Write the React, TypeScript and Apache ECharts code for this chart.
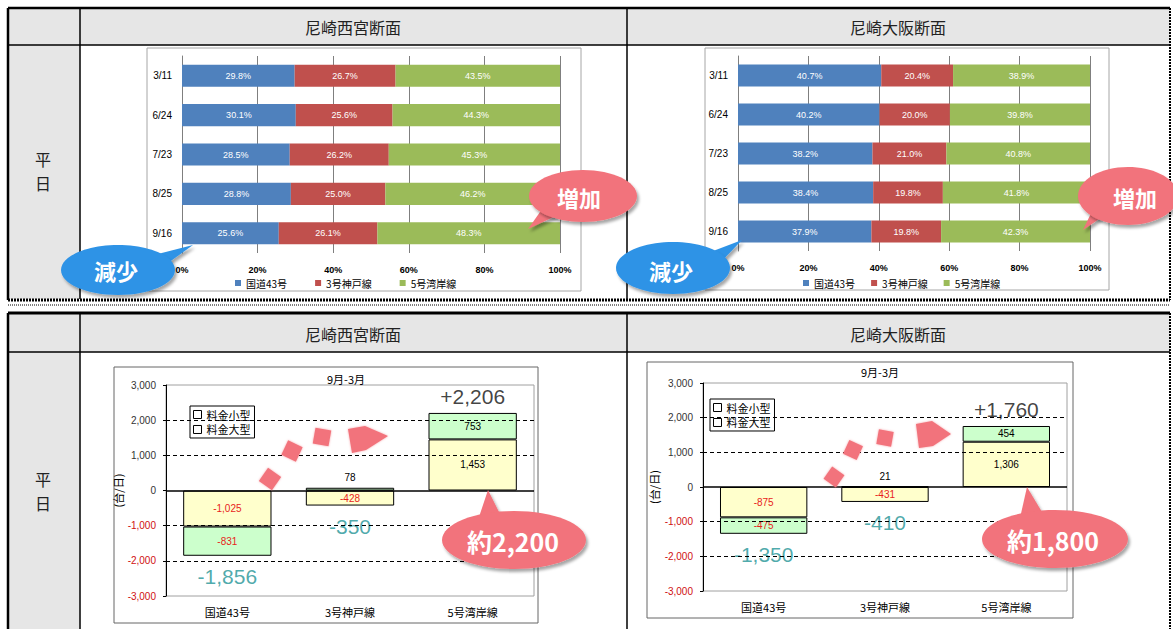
import React, { useEffect, useRef } from "react";
import * as echarts from "echarts";

// ---- data ----
const shareDates = ["3/11", "6/24", "7/23", "8/25", "9/16"];
const routeNames = ["国道43号", "3号神戸線", "5号湾岸線"];

const nishiRoute43 = [29.8, 30.1, 28.5, 28.8, 25.6];
const nishiKobe3 = [26.7, 25.6, 26.2, 25.0, 26.1];
const nishiWangan5 = [43.5, 44.3, 45.3, 46.2, 48.3];

const osakaRoute43 = [40.7, 40.2, 38.2, 38.4, 37.9];
const osakaKobe3 = [20.4, 20.0, 21.0, 19.8, 19.8];
const osakaWangan5 = [38.9, 39.8, 40.8, 41.8, 42.3];

const pctMin = 0;
const pctMax = 100;
const pctStep = 20;

const fareNames = ["料金小型", "料金大型"];
const nishiSmall = [-1025, -428, 1453];
const nishiLarge = [-831, 78, 753];
const nishiTotal = [-1856, -350, 2206];
const osakaSmall = [-875, -431, 1306];
const osakaLarge = [-475, 21, 454];
const osakaTotal = [-1350, -410, 1760];

const diffMin = -3000;
const diffMax = 3000;
const diffStep = 1000;
const dashedLevels = [2000, 1000, -1000, -2000];

// ---- styles ----
const shareColors = ["#4f81bd", "#c0504d", "#9bbb59"];
const fareColors = ["#ffffcc", "#ccffcc"];
const JP = '"Noto Sans CJK JP", "Liberation Sans", sans-serif';
const NUM = '"Liberation Sans", Arial, sans-serif';
const NARROW = '"Liberation Sans Narrow", "Liberation Sans", Arial, sans-serif';
const teal = "#1f9496";
const pink = "#f2737b";
const blue = "#2f93e6";

const fmt = (v: number) => v.toLocaleString("en-US");

function shareSeries(idx: number, stack: string, arrays: number[][]) {
  return arrays.map((arr, k) => ({
    type: "bar",
    name: routeNames[k],
    stack,
    xAxisIndex: idx,
    yAxisIndex: idx,
    barWidth: "56%",
    data: arr,
    itemStyle: { color: shareColors[k] },
    label: {
      show: true,
      color: "#fff",
      fontSize: 9,
      fontFamily: NUM,
      formatter: (p: any) => Number(p.value).toFixed(1) + "%",
    },
    emphasis: { disabled: true },
  }));
}

function diffSeries(idx: number, stack: string, small: number[], large: number[], total: number[]) {
  const item = (v: number) => ({
    value: v,
    label: {
      position: Math.abs(v) < 150 ? "top" : "inside",
      color: v < 0 ? "#e8231b" : "#000",
    },
  });
  const common = {
    type: "bar",
    stack,
    xAxisIndex: idx,
    yAxisIndex: idx,
    barWidth: "72%",
    z: 3,
    emphasis: { disabled: true },
    label: { show: true, fontSize: 10, fontFamily: NUM, formatter: (p: any) => fmt(Number(p.value)) },
  };
  return [
    {
      ...common,
      name: fareNames[0],
      data: small.map(item),
      itemStyle: { color: fareColors[0], borderColor: "#000", borderWidth: 1 },
    },
    {
      ...common,
      name: fareNames[1],
      data: large.map(item),
      itemStyle: { color: fareColors[1], borderColor: "#000", borderWidth: 1 },
      markLine: {
        silent: true,
        symbol: ["none", "none"],
        label: { show: false },
        lineStyle: { color: "#000", width: 1.5, type: "solid" },
        data: [{ yAxis: 0 }],
      },
    },
    {
      type: "scatter",
      name: "total" + idx,
      xAxisIndex: idx,
      yAxisIndex: idx,
      z: 1,
      symbolSize: 1,
      itemStyle: { color: "transparent" },
      emphasis: { disabled: true },
      data: total.map((t, i) => ({
        value: [
          i,
          t < 0
            ? Math.min(small[i], 0) + Math.min(large[i], 0)
            : Math.max(small[i], 0) + Math.max(large[i], 0),
          t,
        ],
        label: {
          position: t < 0 ? "bottom" : "top",
          distance: t < 0 ? 10 : 5,
          color: t < 0 ? teal : "#111",
        },
      })),
      label: {
        show: true,
        fontSize: 21,
        fontFamily: NARROW,
        formatter: (p: any) => {
          const t = p.value[2];
          return (t > 0 ? "+" : "") + fmt(t);
        },
      },
      markLine: {
        silent: true,
        symbol: ["none", "none"],
        label: { show: false },
        lineStyle: { color: "#000", width: 1, type: [4, 3] },
        data: dashedLevels.map((v) => ({ yAxis: v })),
      },
    },
  ];
}

function rotSquare(cx: number, cy: number, s: number, deg: number) {
  const a = (deg * Math.PI) / 180;
  const h = s / 2;
  return [
    [-h, -h],
    [h, -h],
    [h, h],
    [-h, h],
  ].map(([x, y]) => [cx + x * Math.cos(a) - y * Math.sin(a), cy + x * Math.sin(a) + y * Math.cos(a)]);
}

function bubble(
  cx: number,
  cy: number,
  rx: number,
  ry: number,
  tail: number[][],
  color: string,
  text: string,
  tx: number,
  ty: number,
  fontSize: number
) {
  const shadow = { shadowBlur: 3, shadowColor: "rgba(0,0,0,0.35)", shadowOffsetX: 2, shadowOffsetY: 3 };
  return [
    { type: "polygon", z: 100, shape: { points: tail }, style: { fill: color, ...shadow } },
    { type: "ellipse", z: 100, shape: { cx, cy, rx, ry }, style: { fill: color, ...shadow } },
    {
      type: "text",
      z: 101,
      style: {
        text,
        x: tx,
        y: ty,
        align: "center",
        verticalAlign: "middle",
        fill: "#fff",
        fontSize,
        fontWeight: "bold",
        fontFamily: JP,
      },
    },
  ];
}

function arrowDecor(sq: number[][], head: number[][]) {
  const st = { fill: pink, shadowBlur: 2, shadowColor: "rgba(240,110,120,0.6)" };
  return [
    ...sq.map(([cx, cy, s, d]) => ({ type: "polygon", z: 90, shape: { points: rotSquare(cx, cy, s, d) }, style: st })),
    { type: "polygon", z: 90, shape: { points: head }, style: st },
  ];
}

function txt(x: number, y: number, text: string, fontSize: number, extra: any = {}) {
  return {
    type: "text",
    z: 5,
    style: { text, x, y, align: "center", verticalAlign: "middle", fill: "#222", fontSize, fontFamily: JP, ...extra },
  };
}

function line(x1: number, y1: number, x2: number, y2: number, width: number, dash?: any) {
  return {
    type: "line",
    z: -5,
    shape: { x1, y1, x2, y2 },
    style: { stroke: "#000", lineWidth: width, lineDash: dash },
  };
}

function rect(x: number, y: number, w: number, h: number, fill: string, stroke?: string, z = -10) {
  return {
    type: "rect",
    z,
    shape: { x, y, width: w, height: h },
    style: { fill, stroke: stroke || null, lineWidth: stroke ? 1 : 0 },
  };
}

const gray = "#e6e6e6";

const graphics: any[] = [
  // top table
  rect(8, 8, 1162, 291, "#fff"),
  rect(8, 8, 1162, 37, gray),
  rect(8, 45, 72, 254, gray),
  line(8, 45, 1170, 45, 1.5),
  line(80, 8, 80, 299, 1.5),
  line(627, 8, 627, 299, 1.5),
  line(8, 8, 1170, 8, 2.5),
  line(8, 8, 8, 300, 2.5),
  line(8, 300, 1170, 300, 3, [2, 1]),
  line(1170, 8, 1170, 300, 2, [2, 1]),
  line(8, 305, 1170, 305, 1, [1, 1]),
  // bottom table
  rect(8, 313, 1162, 316, "#fff"),
  rect(8, 313, 1162, 39, gray),
  rect(8, 352, 72, 277, gray),
  line(8, 352, 1170, 352, 1.5),
  line(80, 313, 80, 629, 1.5),
  line(627, 313, 627, 629, 1.5),
  line(8, 313, 1170, 313, 3),
  line(8, 313, 8, 629, 2.5),
  line(1170, 313, 1170, 629, 2, [2, 1]),
  // chart frames
  rect(147, 48, 434, 243, "#fff", "#a6a6a6", -4),
  rect(705, 48, 404, 242, "#fff", "#a6a6a6", -4),
  rect(114, 367, 424, 256, "#fff", "#666", -4),
  rect(647, 362, 426, 256, "#fff", "#666", -4),
  // headers
  txt(353, 27, "尼崎西宮断面", 16),
  txt(898, 27, "尼崎大阪断面", 16),
  txt(353, 334, "尼崎西宮断面", 16),
  txt(898, 334, "尼崎大阪断面", 16),
  txt(43, 159, "平", 16),
  txt(43, 183, "日", 16),
  txt(43, 479, "平", 16),
  txt(43, 503, "日", 16),
  // chart titles
  txt(346, 379, "9月-3月", 11, { fill: "#000" }),
  txt(880, 372, "9月-3月", 11, { fill: "#000" }),
  // arrows
  ...arrowDecor(
    [
      [270, 479, 16, 35],
      [292, 451, 16, 25],
      [322, 437, 16, 10],
    ],
    [
      [348, 429],
      [365, 426],
      [388, 436],
      [366, 450],
      [352, 453],
    ]
  ),
  ...arrowDecor(
    [
      [834, 477, 15, 35],
      [853, 450, 15, 25],
      [885, 438, 15, 10],
    ],
    [
      [916, 424],
      [932, 421],
      [951, 434],
      [933, 446],
      [919, 448],
    ]
  ),
  // callouts
  ...bubble(118, 270, 57, 25, [[150, 256], [168, 263], [193, 245]], blue, "減少", 116, 270, 22),
  ...bubble(583, 196, 54, 26, [[545, 205], [560, 214], [528, 229]], pink, "増加", 579, 197, 22),
  ...bubble(673, 268, 57, 26, [[700, 256], [720, 263], [742, 240]], blue, "減少", 671, 270, 22),
  ...bubble(1128, 196, 50, 29, [[1095, 205], [1105, 215], [1083, 230]], pink, "増加", 1135, 197, 22),
  ...bubble(514, 540, 72, 29, [[478, 520], [500, 514], [488, 490]], pink, "約2,200", 513, 541, 25),
  ...bubble(1055, 539, 73, 29, [[1020, 518], [1042, 512], [1027, 487]], pink, "約1,800", 1053, 540, 25),
];

const shareXAxis = (idx: number) => ({
  gridIndex: idx,
  type: "value",
  min: pctMin,
  max: pctMax,
  interval: pctStep,
  axisLine: { show: false },
  axisTick: { show: false },
  axisLabel: { formatter: "{value}%", fontSize: 9, color: "#000", fontWeight: "bold", margin: 12, fontFamily: NUM },
  splitLine: { lineStyle: { color: "#7f7f7f", width: 1 } },
});

const shareYAxis = (idx: number) => ({
  gridIndex: idx,
  type: "category",
  data: shareDates,
  inverse: true,
  axisLine: { lineStyle: { color: "#7f7f7f" } },
  axisTick: { show: false },
  axisLabel: { fontSize: 10, color: "#000", margin: 10, fontFamily: NUM },
});

const diffXAxis = (idx: number) => ({
  gridIndex: idx,
  type: "category",
  data: routeNames,
  axisLine: { show: false },
  axisTick: { show: false },
  axisLabel: { fontSize: 11, color: "#000", margin: 10, fontFamily: JP },
});

const diffYAxis = (idx: number, nameGap: number) => ({
  gridIndex: idx,
  type: "value",
  min: diffMin,
  max: diffMax,
  interval: diffStep,
  axisLine: { show: true, lineStyle: { color: "#000" } },
  axisTick: { show: true, length: 3, lineStyle: { color: "#000" } },
  splitLine: { show: false },
  axisLabel: {
    fontSize: 10,
    margin: 10,
    fontFamily: NUM,
    formatter: (v: number) => fmt(Number(v)),
    color: (v: any) => (Number(v) < 0 ? "#d01010" : "#333"),
  },
  name: "(台/日)",
  nameLocation: "middle",
  nameRotate: 90,
  nameGap,
  nameTextStyle: { fontSize: 11, color: "#000", fontFamily: JP },
});

const fareLegend = (left: number, top: number) => ({
  left,
  top,
  orient: "vertical",
  selectedMode: false,
  backgroundColor: "#fff",
  borderColor: "#000",
  borderWidth: 1,
  padding: [3, 4, 3, 3],
  itemGap: 4,
  itemWidth: 8,
  itemHeight: 8,
  icon: "rect",
  textStyle: { fontSize: 11, color: "#000", fontFamily: JP },
  data: fareNames.map((n) => ({ name: n, itemStyle: { color: "#fff", borderColor: "#000", borderWidth: 1 } })),
});

const shareLegend = (left: number, gap: number) => ({
  left,
  top: 278,
  padding: 0,
  selectedMode: false,
  itemGap: gap,
  itemWidth: 6,
  itemHeight: 6,
  icon: "rect",
  textStyle: { fontSize: 10, color: "#000", fontFamily: JP },
  data: routeNames,
});

export default function App() {
  const ref = useRef<HTMLDivElement>(null);
  useEffect(() => {
    if (!ref.current) return;
    const chart = echarts.init(ref.current, undefined, { renderer: "svg" });
    chart.setOption({
      animation: false,
      backgroundColor: "#fff",
      textStyle: { fontFamily: JP },
      grid: [
        { left: 182, top: 56, width: 378, height: 197 },
        { left: 738, top: 56, width: 352, height: 195 },
        { left: 166, top: 385, width: 368, height: 211, show: true, borderColor: "#a0a0a0", borderWidth: 1 },
        { left: 703, top: 383, width: 364, height: 208, show: true, borderColor: "#a0a0a0", borderWidth: 1 },
      ],
      xAxis: [shareXAxis(0), shareXAxis(1), diffXAxis(2), diffXAxis(3)],
      yAxis: [shareYAxis(0), shareYAxis(1), diffYAxis(2, 40), diffYAxis(3, 44)],
      legend: [shareLegend(235, 28), shareLegend(803, 16), fareLegend(190, 406), fareLegend(710, 399)],
      series: [
        ...shareSeries(0, "nishiShare", [nishiRoute43, nishiKobe3, nishiWangan5]),
        ...shareSeries(1, "osakaShare", [osakaRoute43, osakaKobe3, osakaWangan5]),
        ...diffSeries(2, "nishiDiff", nishiSmall, nishiLarge, nishiTotal),
        ...diffSeries(3, "osakaDiff", osakaSmall, osakaLarge, osakaTotal),
      ],
      graphic: { elements: graphics },
    });
    return () => chart.dispose();
  }, []);
  return (
    <div
      ref={ref}
      style={{ position: "fixed", left: 0, top: 0, width: 1173, height: 629, background: "#fff" }}
    />
  );
}
